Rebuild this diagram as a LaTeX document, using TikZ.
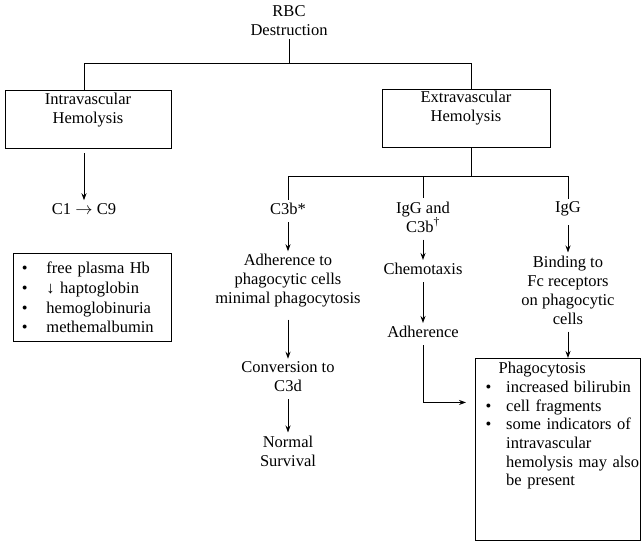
\documentclass[tikz,border=0pt]{standalone}
\usepackage{fontspec}
\setmainfont{Liberation Serif}
\usetikzlibrary{arrows.meta,calc}
\begin{document}
\begin{tikzpicture}[x=1pt,y=-1pt,
  every node/.style={font=\fontsize{16.5}{19}\selectfont},
  txt/.style={align=center,inner sep=3pt},
  boxed/.style={draw,line width=0.9pt},
  ln/.style={line width=0.9pt},
  arr/.style={ln,-{Stealth[length=7pt,width=5pt]},shorten <=4pt}]
\useasboundingbox (0,0) rectangle (643,545);

% top
\node[txt] (rbc) at (289,21) {RBC\\Destruction};
\node[boxed,minimum width=166pt,minimum height=58pt,inner sep=0pt] (intra) at (88,119) {};
\node[txt] (intratxt) at (88,110) {Intravascular\\Hemolysis};
\node[boxed,minimum width=168pt,minimum height=58pt,inner sep=0pt] (ext) at (466,118) {};
\node[txt] (exttxt) at (466,108) {Extravascular\\Hemolysis};

\coordinate (j1) at (289,63);
\draw[ln] (rbc.south) -- (j1);
\draw[ln] (j1) -| ([xshift=-4pt]intra.north);
\draw[ln] (j1) -| ([xshift=5pt]ext.north);

% left column
\node[txt] (c1) at (84,209) {C1 \(\rightarrow\) C9};
\draw[arr] ([yshift=-1pt]intra.south -| c1.north) -- (c1.north);

\node[boxed,anchor=north west,text width=141pt,inner xsep=8.5pt,minimum height=88pt,align=left,
  font=\fontsize{16.5}{19.7}\selectfont] (list1) at (13,253)
{\makebox[24.5pt][l]{\textbullet}free plasma Hb\\
 \makebox[24.5pt][l]{\textbullet}↓ haptoglobin\\
 \makebox[24.5pt][l]{\textbullet}hemoglobinuria\\
 \makebox[24.5pt][l]{\textbullet}methemalbumin};

% lower branch
\coordinate (j2) at (471,176);
\draw[ln] ([xshift=5pt]ext.south) -- (j2);
\node[txt] (c3b) at (288,209) {C3b*};
\node[txt] (iggc) at (423,217) {IgG and\\C3b\textsuperscript{†}};
\node[txt] (igg) at (568,209) {IgG};
\draw[ln] (j2) -| (c3b.north);
\draw[ln] (j2) -| (iggc.north);
\draw[ln] (j2) -| (igg.north);

% column C3b
\node[txt] (adh1) at (288,281) {Adherence to\\phagocytic cells\\minimal phagocytosis};
\node[txt] (conv) at (288,377) {Conversion to\\C3d};
\node[txt] (norm) at (288,451) {Normal\\Survival};
\draw[arr] (c3b.south) -- (adh1.north);
\draw[arr,shorten <=9pt] (adh1.south) -- (conv.north);
\draw[arr] (conv.south) -- (norm.north);

% column IgG and C3b
\node[txt] (chemo) at (423,269) {Chemotaxis};
\node[txt] (adh2) at (423,332) {Adherence};
\draw[arr] (iggc.south) -- (chemo.north);
\draw[arr] (chemo.south) -- (adh2.north);

% column IgG
\node[txt] (bind) at (568,290) {Binding to\\Fc receptors\\on phagocytic\\cells};
\draw[arr,shorten <=6pt] (igg.south) -- (bind.north);

% phagocytosis box
\node[boxed,anchor=north west,minimum width=165pt,minimum height=182pt,inner sep=0pt] (phago) at (475,358) {};
\node[anchor=north west,text width=160pt,inner sep=0pt,align=left,
  font=\fontsize{16.5}{18.7}\selectfont] (phagotxt) at (485.5,362)
{\hspace*{13pt}Phagocytosis\\
 \makebox[20.5pt][l]{\textbullet}increased bilirubin\\
 \makebox[20.5pt][l]{\textbullet}cell fragments\\
 \makebox[20.5pt][l]{\textbullet}some indicators of\\
 \hspace*{20.5pt}intravascular\\
 \hspace*{20.5pt}hemolysis may also\\
 \hspace*{20.5pt}be present};

\draw[arr] (bind.south) -- (bind.south |- phago.north);
\draw[arr,shorten >=9pt] (adh2.south) |- ([yshift=47pt]phago.west);
\end{tikzpicture}
\end{document}
